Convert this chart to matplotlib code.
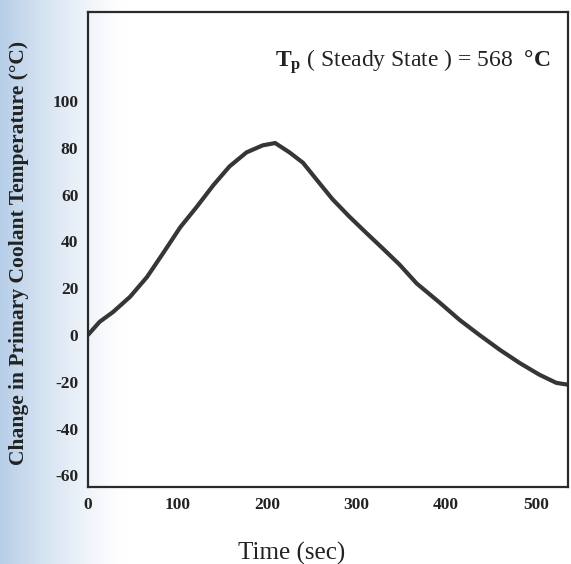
import numpy as np
import matplotlib.pyplot as plt

plt.rcParams['font.family'] = ['Liberation Serif', 'DejaVu Serif']
plt.rcParams['mathtext.fontset'] = 'custom'
plt.rcParams['mathtext.rm'] = 'Liberation Serif'
plt.rcParams['mathtext.bf'] = 'Liberation Serif:bold'
plt.rcParams['axes.unicode_minus'] = False

# curve
time_s = [0, 13, 28, 47, 66, 84, 103, 122, 140, 158, 177, 195, 209, 225,
          240, 256, 273, 292, 311, 329, 348, 367, 393, 415, 437, 460, 482,
          504, 523, 538]
dT = [0, 5.6, 9.8, 16.3, 24.8, 35, 46, 55, 64, 72, 78, 81, 82, 78,
      73.6, 66, 58, 50.5, 43.5, 37, 30, 22, 13.7, 6.4, 0, -6.4, -12,
      -17, -20.5, -21.4]

xticks = [0, 100, 200, 300, 400, 500]
yticks = [-60, -40, -20, 0, 20, 40, 60, 80, 100]

fig = plt.figure(figsize=(5.71, 5.64), dpi=100)

# bluish tint of the scanned page on the left
bg = fig.add_axes([0, 0, 1, 1], zorder=-10)
grad = np.linspace(0, 1, 300)
w = np.clip(1 - grad / 0.22, 0, 1) ** 1.3
img = np.ones((2, 300, 3))
base = np.array([0.72, 0.81, 0.91])
for k in range(3):
    img[:, :, k] = 1 - w * (1 - base[k])
bg.imshow(img, aspect='auto', extent=[0, 1, 0, 1])
bg.axis('off')

ax = fig.add_axes([88/571, 77/564, 480/571, 475/564])
ax.set_facecolor('none')
ax.plot(time_s, dT, color='#363636', lw=3.0, solid_capstyle='round',
        solid_joinstyle='round')

ax.set_xlim(0, 536)
ax.set_ylim(-65, 138)
ax.set_xticks(xticks)
ax.set_yticks(yticks)
ax.tick_params(length=0, labelsize=12.5, pad=7, colors='#222222')
for lab in ax.get_xticklabels() + ax.get_yticklabels():
    lab.set_fontweight('bold')
for s in ax.spines.values():
    s.set_linewidth(1.6)
    s.set_color('#2a2a2a')

ax.set_xlabel('Time (sec)', fontsize=18, color='#222222')
ax.xaxis.set_label_coords((292-88)/480, -0.115)
ax.set_ylabel('Change in Primary Coolant Temperature (°C)', fontsize=15.5,
              fontweight='bold', color='#222222')
ax.yaxis.set_label_coords(-0.123, 0.493)

ax.text(0.39, 0.895, r'$\mathbf{T_p}$ ( Steady State ) = 568  $\mathbf{°C}$',
        transform=ax.transAxes, ha='left', va='center', fontsize=17,
        color='#222222')

fig.savefig('out.png', dpi=100)
